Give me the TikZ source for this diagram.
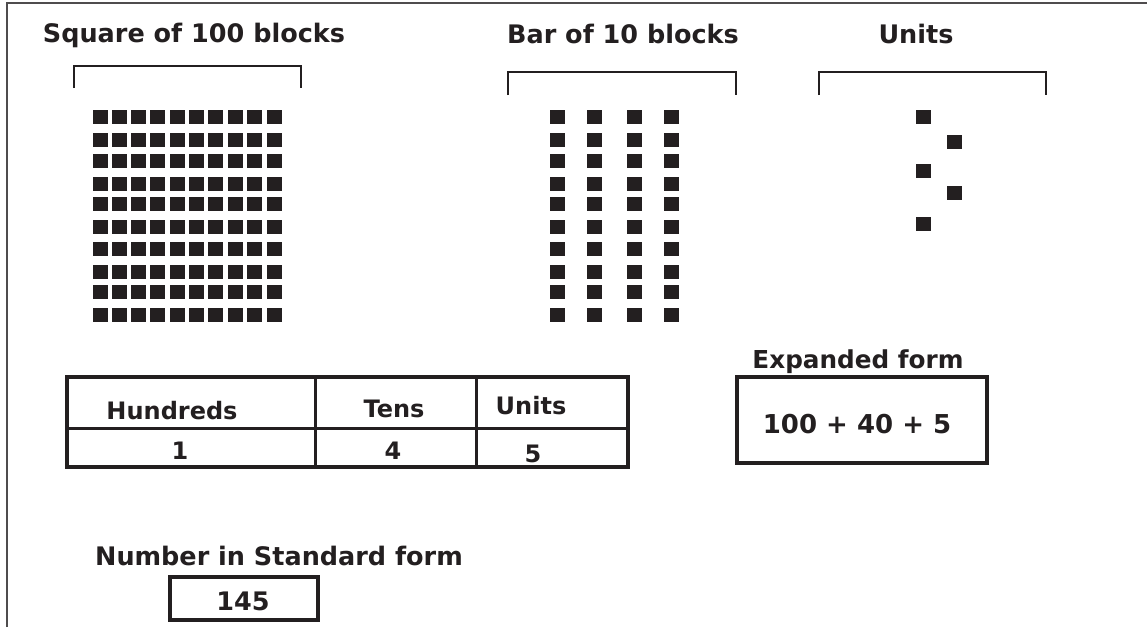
\documentclass[tikz,border=0pt]{standalone}
\usepackage{fontspec}
\setmainfont{DejaVu Sans}
\definecolor{blockgray}{HTML}{231F20}
\begin{document}
\begin{tikzpicture}[x=1pt, y=-1pt,
		blk/.style={fill=blockgray},
		lbl/.style={font=\fontsize{25.5}{30}\selectfont\bfseries, text=blockgray, inner sep=0pt, anchor=base},
		tab/.style={lbl, font=\fontsize{24}{28}\selectfont\bfseries},
		brk/.style={draw=blockgray, line width=2pt},
		cell/.style={draw=blockgray, line width=4pt}]
		\useasboundingbox (0,0) rectangle (1147,627);
		\draw[draw=blockgray!80, line width=2pt] (7,627) -- (7,3) -- (1147,3);
		% titles
		\node[lbl] (sq) at (194,42) {Square of 100 blocks};
		\node[lbl] (bar) at (623,43) {Bar of 10 blocks};
		\node[lbl] (un) at (916,43) {Units};
		\draw[brk] (74,88) -- (74,66) -- (301,66) -- (301,88);
		\draw[brk] (508,95) -- (508,72) -- (736,72) -- (736,95);
		\draw[brk] (819,95) -- (819,72) -- (1046,72) -- (1046,95);
		% blocks
		\foreach \y in {110,133,154,177,197,220,242,265,285,308} {
			\foreach \x in {93,112,131,150,170,189,208,228,247,267}
				\fill[blk] (\x,\y) rectangle ++(15,14);
			\foreach \x in {550,587,627,664}
				\fill[blk] (\x,\y) rectangle ++(15,14);
		}
		\foreach \x/\y in {916/110,947/135,916/164,947/186,916/217}
			\fill[blk] (\x,\y) rectangle ++(15,14);
		% place value table
		\draw[cell] (67,377) rectangle (628,467);
		\draw[draw=blockgray, line width=3pt] (67,428) -- (630,428);
		\draw[draw=blockgray, line width=3pt] (315,377) -- (315,467);
		\draw[draw=blockgray, line width=3pt] (476,377) -- (476,467);
		\node[tab] (h) at (172,419) {Hundreds};
		\node[tab] (t) at (394,417) {Tens};
		\node[tab] (u) at (531,414) {Units};
		\node[tab] (h1) at (180,459) {1};
		\node[tab] (t4) at (393,459) {4};
		\node[tab] (u5) at (533,462) {5};
		% expanded form
		\node[tab, font=\fontsize{24.7}{29}\selectfont\bfseries] (exp) at (858,368) {Expanded form};
		\draw[cell] (737,377) rectangle (987,463);
		\node[lbl, font=\fontsize{26}{30}\selectfont\bfseries] (sum) at (857,433) {100 + 40 + 5};
		% standard form
		\node[lbl] (std) at (279,565) {Number in Standard form};
		\draw[cell] (170,577) rectangle (318,620);
		\node[lbl] (num) at (243,610) {145};
\end{tikzpicture}
\end{document}
